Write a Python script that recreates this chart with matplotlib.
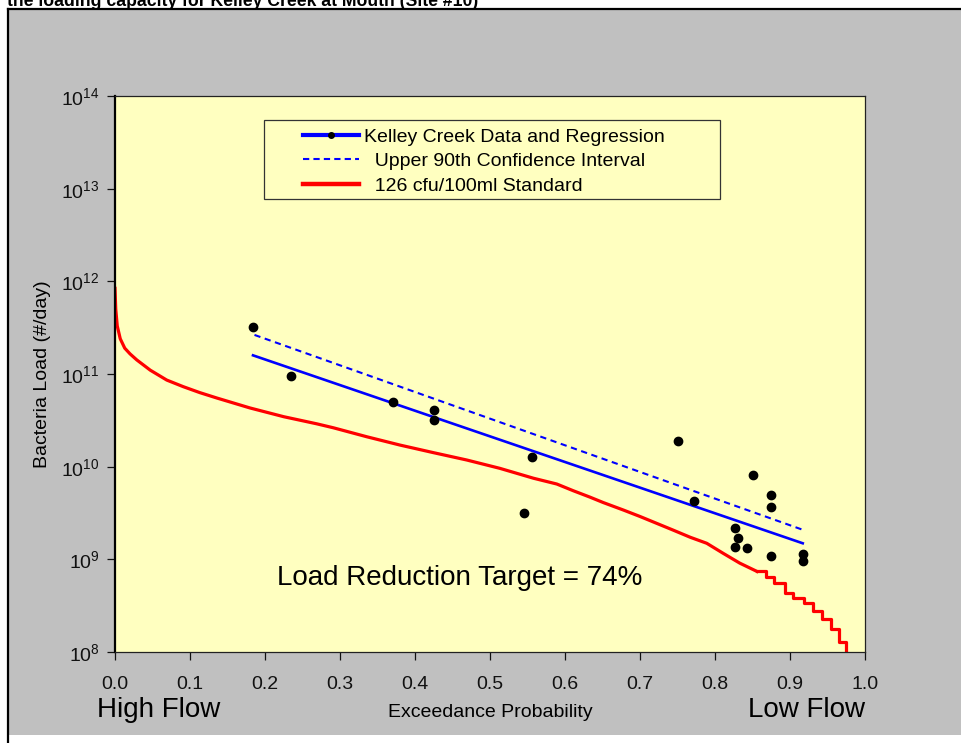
import matplotlib
matplotlib.use("Agg")
import matplotlib.pyplot as plt
from matplotlib.lines import Line2D
from matplotlib.patches import Rectangle
from matplotlib.ticker import LogLocator, NullLocator, MultipleLocator, FormatStrFormatter

plt.rcParams['font.family'] = ['Liberation Sans', 'DejaVu Sans']
plt.rcParams['mathtext.fontset'] = 'custom'
plt.rcParams['mathtext.rm'] = 'Liberation Sans'
plt.rcParams['mathtext.it'] = 'Liberation Sans:italic'
plt.rcParams['mathtext.bf'] = 'Liberation Sans:bold'

# observed loads (exceedance probability, #/day)
data_x = [0.184, 0.235, 0.371, 0.425, 0.425, 0.556, 0.545, 0.751, 0.772, 0.850,
          0.875, 0.875, 0.827, 0.830, 0.827, 0.842, 0.875, 0.917, 0.917]
data_y = [3.2e11, 9.5e10, 5.0e10, 4.1e10, 3.2e10, 1.27e10, 3.2e9, 1.9e10, 4.3e9, 8.1e9,
          5.0e9, 3.7e9, 2.2e9, 1.7e9, 1.36e9, 1.34e9, 1.09e9, 1.15e9, 9.6e8]

# regression and upper 90th confidence line
reg_x = [0.184, 0.917]
reg_y = [1.59e11, 1.49e9]
upper_x = [0.186, 0.918]
upper_y = [2.64e11, 2.07e9]

# 126 cfu/100ml standard (load duration curve)
std_x = [0.0, 0.001, 0.003, 0.007, 0.013, 0.020, 0.029, 0.047, 0.069, 0.091,
         0.113, 0.136, 0.180, 0.225, 0.269, 0.291, 0.336, 0.380, 0.424, 0.469,
         0.513, 0.558, 0.589, 0.611, 0.633, 0.651, 0.678, 0.700, 0.722, 0.744,
         0.767, 0.789, 0.811, 0.833, 0.856]
std_y = [8.4e11, 5.0e11, 3.3e11, 2.4e11, 1.9e11, 1.65e11, 1.42e11, 1.10e11, 8.6e10, 7.3e10,
         6.3e10, 5.5e10, 4.3e10, 3.46e10, 2.9e10, 2.63e10, 2.1e10, 1.71e10, 1.42e10, 1.18e10,
         9.6e9, 7.5e9, 6.5e9, 5.5e9, 4.7e9, 4.1e9, 3.4e9, 2.9e9, 2.45e9, 2.07e9,
         1.73e9, 1.49e9, 1.16e9, 9.1e8, 7.4e8]
tail_x = [0.856, 0.868, 0.878, 0.893, 0.904, 0.918, 0.931, 0.942, 0.954, 0.965, 0.974]
tail_y = [7.4e8, 6.4e8, 5.5e8, 4.3e8, 3.8e8, 3.36e8, 2.8e8, 2.25e8, 1.77e8, 1.27e8, 8e7]

labels = ["Kelley Creek Data and Regression",
          "  Upper 90th Confidence Interval",
          "  126 cfu/100ml Standard"]

W, H = 961, 743
fig = plt.figure(figsize=(W / 100, H / 100), dpi=100, facecolor='white')

# gray panel with black frame
fig.patches.append(Rectangle((8 / W, 1 - 735 / H), 1, (735 - 9) / H,
                             transform=fig.transFigure, facecolor='#c0c0c0',
                             edgecolor='none', zorder=-10))
fig.lines.append(Line2D([8 / W, 8 / W], [0, 1 - 9 / H], transform=fig.transFigure,
                        color='black', lw=1.6, zorder=-5))
fig.lines.append(Line2D([8 / W, 1], [1 - 9 / H, 1 - 9 / H], transform=fig.transFigure,
                        color='black', lw=1.6, zorder=-5))
fig.text(7 / W, 1 - 6 / H, "the loading capacity for Kelley Creek at Mouth (Site #10)",
         fontsize=12.7, fontweight='bold', ha='left', va='baseline')

ax = fig.add_axes([115 / W, 1 - 652 / H, 750 / W, 556 / H])
ax.set_facecolor('#ffffc0')

ax.plot(std_x, std_y, color='red', lw=2.3)
ax.step(tail_x, tail_y, where='post', color='red', lw=2.3)
ax.plot(reg_x, reg_y, color='blue', lw=1.9)
ax.plot(upper_x, upper_y, color='blue', lw=1.5, linestyle=(0, (3, 2.2)))
ax.plot(data_x, data_y, 'o', color='black', ms=6, zorder=5)

ax.set_yscale('log')
ax.set_xlim(0, 1)
ax.set_ylim(1e8, 1e14)
ax.yaxis.set_major_locator(LogLocator(base=10, numticks=10))
ax.yaxis.set_minor_locator(NullLocator())
ax.xaxis.set_major_locator(MultipleLocator(0.1))
ax.xaxis.set_major_formatter(FormatStrFormatter('%.1f'))

for side in ['top', 'right', 'bottom']:
    ax.spines[side].set_linewidth(0.9)
    ax.spines[side].set_color('#222222')
ax.spines['left'].set_linewidth(1.6)
ax.spines['left'].set_color('black')
ax.tick_params(axis='both', direction='out', length=6, width=0.9, labelsize=14,
               colors='#111111')
ax.tick_params(axis='x', pad=11)
ax.tick_params(axis='y', pad=5)

ax.set_ylabel("Bacteria Load (#/day)", fontsize=14, labelpad=7)
ax.set_xlabel("Exceedance Probability", fontsize=14, labelpad=8)

fig.text(97 / W, 1 - 717 / H, "High Flow", fontsize=20, ha='left', va='baseline')
fig.text(865 / W, 1 - 717 / H, "Low Flow", fontsize=20, ha='right', va='baseline')
ax.text(0.216, (652 - 585) / 556, "Load Reduction Target = 74%", fontsize=20,
        ha='left', va='baseline', transform=ax.transAxes)

# legend box
ax.add_patch(Rectangle((149 / 750, (652 - 199) / 556), 456 / 750, 79 / 556,
                       transform=ax.transAxes, facecolor='none',
                       edgecolor='#333333', lw=0.9, zorder=6))
handles = [
    Line2D([], [], color='blue', lw=3, marker='o', markerfacecolor='black',
           markeredgecolor='black', ms=4, markevery=[1]),
    Line2D([], [], color='blue', lw=1.5, linestyle=(0, (3, 2))),
    Line2D([], [], color='red', lw=3.2),
]
leg = ax.legend(handles, labels, loc='upper left',
                bbox_to_anchor=(188 / 750, (652 - 128) / 556),
                frameon=False, fontsize=14, borderpad=0, borderaxespad=0,
                handlelength=2.9, handletextpad=0.25, labelspacing=0.36)
leg.set_zorder(7)

fig.savefig("out.png", dpi=100, facecolor=fig.get_facecolor())
